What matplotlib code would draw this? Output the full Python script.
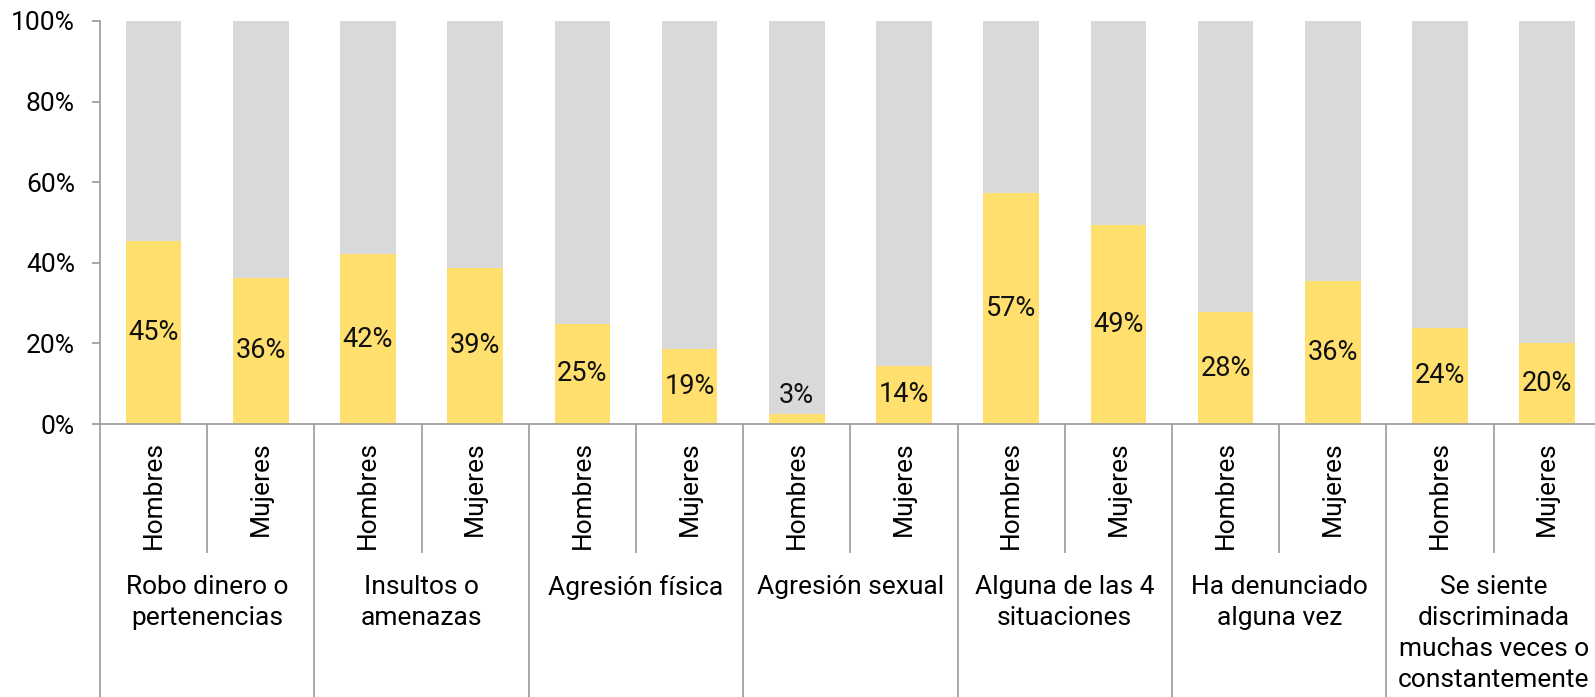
import matplotlib
matplotlib.use("Agg")
import matplotlib.pyplot as plt
import numpy as np

plt.rcParams['font.family'] = ['Roboto', 'DejaVu Sans']

groups = ["Robo dinero o\npertenencias", "Insultos o\namenazas", "Agresión física",
          "Agresión sexual", "Alguna de las 4\nsituaciones", "Ha denunciado\nalguna vez",
          "Se siente\ndiscriminada\nmuchas veces o\nconstantemente"]
sexes = ["Hombres", "Mujeres"]
hombres = [45.3, 42.1, 24.9, 2.6, 57.4, 27.7, 23.9]
mujeres = [36.3, 38.8, 18.6, 14.4, 49.4, 35.5, 20.2]
yticks = [0, 20, 40, 60, 80, 100]

YELLOW = '#FFE06F'
GREY = '#D9D9D9'
LINE = '#A0A0A0'
FS = 19

W, H = 1595, 697
fig = plt.figure(figsize=(W / 100, H / 100), dpi=100)
ax_left, ax_bot_px, ax_top_px = 100, 424, 21
slot = 107.2
ax = fig.add_axes([ax_left / W, (H - ax_bot_px) / H, 14 * slot / W, (ax_bot_px - ax_top_px) / H])

vals = []
labels = []
for h, m in zip(hombres, mujeres):
    vals += [h, m]
    labels += sexes
vals = np.array(vals)
x = np.arange(len(vals))

ax.bar(x, vals, width=0.52, color=YELLOW, zorder=2)
ax.bar(x, 100 - vals, bottom=vals, width=0.52, color=GREY, zorder=2)

for xi, v in zip(x, vals):
    if v < 5:
        ax.text(xi, v + 1.2, f"{v:.0f}%", ha='center', va='bottom', fontsize=FS + 0.5, color='#111111')
    else:
        ax.text(xi, v / 2, f"{v:.0f}%", ha='center', va='center', fontsize=FS + 0.5, color='#111111')

ax.set_xlim(-0.5, len(vals) - 0.5)
ax.set_ylim(0, 100)
ax.set_yticks(yticks)
ax.set_yticklabels([f"{t}%" for t in yticks], fontsize=FS)
ax.set_xticks([])
for s in ['top', 'right']:
    ax.spines[s].set_visible(False)
for s in ['left', 'bottom']:
    ax.spines[s].set_color(LINE)
    ax.spines[s].set_linewidth(1.3)
ax.tick_params(axis='y', length=6, width=1.3, color=LINE, pad=12)

axh = ax_bot_px - ax_top_px
trans = ax.get_xaxis_transform()
# sub labels
for xi, lab in zip(x, labels):
    ax.text(xi, -17 / axh, lab, rotation=90, ha='center', va='top', fontsize=FS,
            transform=trans, clip_on=False)
# separators
for i in range(len(vals) + 1):
    xs = i - 0.5
    if i % 2 == 0:
        y1 = -(H - ax_bot_px + 5) / axh
    else:
        y1 = -(552 - ax_bot_px) / axh
    ax.plot([xs, xs], [0, y1], color=LINE, lw=1.3, transform=trans, clip_on=False)
# group labels
for g, name in enumerate(groups):
    ax.text(2 * g + 0.5, -(575 - ax_bot_px) / axh, name, ha='center', va='top', fontsize=FS,
            linespacing=1.36, transform=trans, clip_on=False)

fig.savefig("out.png", dpi=100)
